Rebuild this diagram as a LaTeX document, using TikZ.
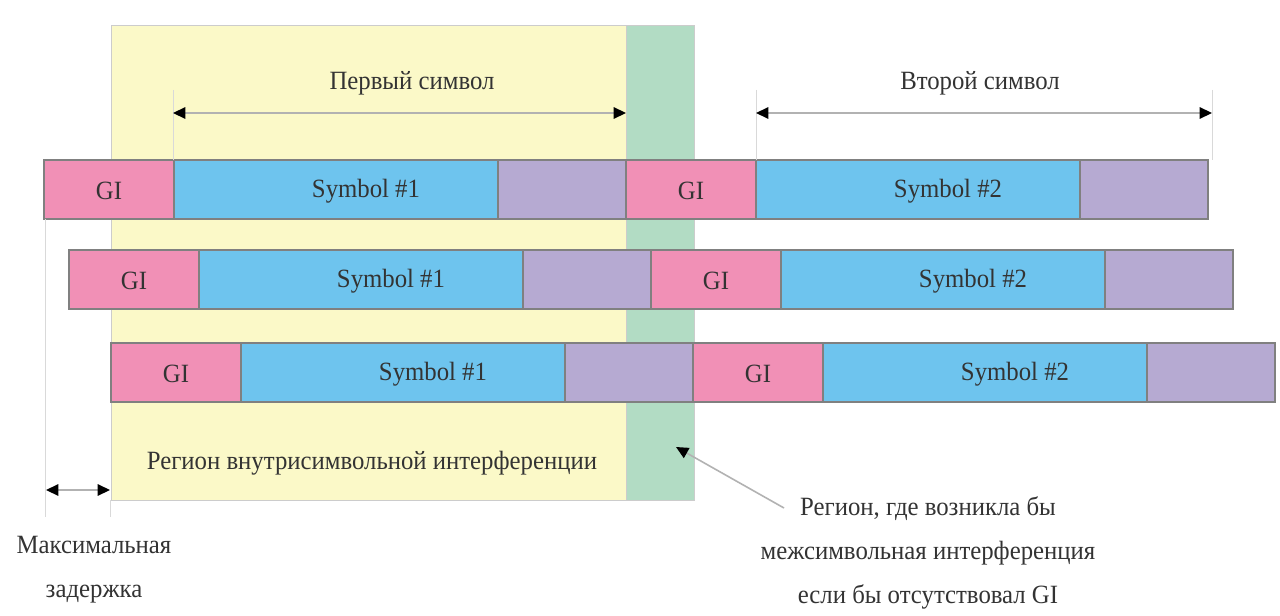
\documentclass[tikz,border=0pt]{standalone}
\usepackage{fontspec}
\setmainfont[FakeStretch=0.94]{Liberation Serif}
\usetikzlibrary{positioning, arrows.meta}

\definecolor{giPink}{HTML}{F190B6}
\definecolor{symBlue}{HTML}{6EC4EE}
\definecolor{tailViolet}{HTML}{B6AAD2}
\definecolor{isiYellow}{HTML}{FBF9C8}
\definecolor{isiGreen}{HTML}{B2DCC4}
\definecolor{inkGray}{HTML}{333333}

\begin{document}
\begin{tikzpicture}[
    x=0.02cm, y=-0.02cm,
    >={Triangle[length=7pt, width=6.5pt, color=black]},
    lbl/.style={text=inkGray, font=\fontsize{15}{25}\selectfont, inner sep=0pt, align=center},
    seg/.style={draw=black!50, line width=0.6pt},
    dim/.style={draw=black!30, line width=0.9pt},
    tick/.style={draw=black!15, line width=0.5pt}
]
\useasboundingbox (0,0) rectangle (1280,615);
\fill[white] (0,0) rectangle (1280,615);

% Regions
\draw[fill=isiYellow, draw=black!20] (111,25) rectangle (626,500);
\draw[fill=isiGreen, draw=black!20] (626,25) rectangle (694,500);

% Three delayed copies of the two symbols
\foreach \r/\x/\y in {1/44/160, 2/69/250, 3/111/343}{
  \foreach \k/\s in {1/0, 2/582}{
    \draw[seg, fill=giPink] (\x+\s,\y) rectangle (\x+\s+130,\y+59);
    \draw[seg, fill=symBlue] (\x+\s+130,\y) rectangle (\x+\s+454,\y+59);
    \draw[seg, fill=tailViolet] (\x+\s+454,\y) rectangle (\x+\s+582,\y+59);
    \node[lbl] (gi\r\k) at (\x+\s+65,\y+31) {GI};
    \node[lbl] (sym\r\k) at (\x+\s+322,\y+31) {Symbol \#\k};
  }
}

% Symbol spans
\coordinate (t1a) at (173,90);   \coordinate (t1b) at (173,160);
\coordinate (t2a) at (756,90);   \coordinate (t2b) at (756,160);
\coordinate (t3a) at (1212,90);  \coordinate (t3b) at (1212,160);
\draw[tick] (t1a) -- (t1b);
\draw[tick] (t2a) -- (t2b);
\draw[tick] (t3a) -- (t3b);

\coordinate (a1l) at (173,113);  \coordinate (a1r) at (626,113);
\coordinate (a2l) at (756,113);  \coordinate (a2r) at (1212,113);
\draw[dim, <->] (a1l) -- (a1r);
\draw[dim, <->] (a2l) -- (a2r);
\node[lbl] (first) at (412,83) {Первый символ};
\node[lbl] (second) at (980,83) {Второй символ};

% Maximum delay
\coordinate (d1a) at (45,219);   \coordinate (d1b) at (45,517);
\coordinate (d2a) at (110,500);  \coordinate (d2b) at (110,517);
\draw[tick] (d1a) -- (d1b);
\draw[tick] (d2a) -- (d2b);
\coordinate (dl) at (46,490);    \coordinate (dr) at (110,490);
\draw[dim, <->] (dl) -- (dr);
\node[lbl] (delay) at (94,570) {Максимальная\\задержка};

% Region labels
\node[lbl] (isi) at (372,463) {Регион внутрисимвольной интерференции};
\node[lbl] (ici) at (928,553) {Регион, где возникла бы\\межсимвольная интерференция\\если бы отсутствовал GI};
\coordinate (pt) at (676,447);
\coordinate (ps) at (784,508);
\draw[dim, ->] (ps) -- (pt);

\end{tikzpicture}
\end{document}
